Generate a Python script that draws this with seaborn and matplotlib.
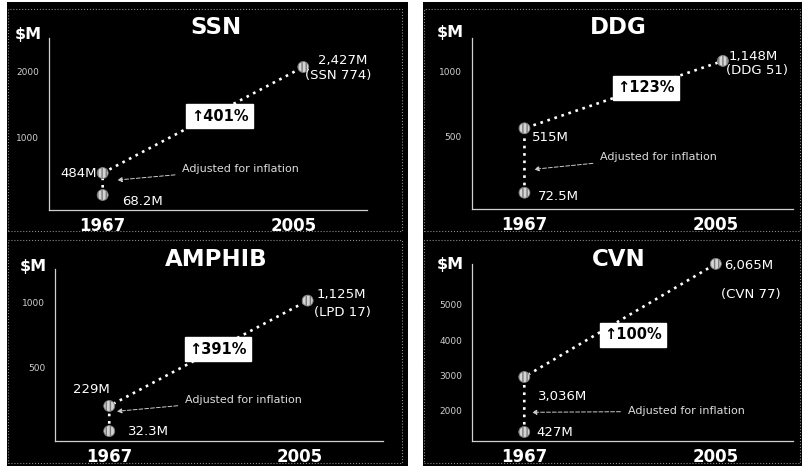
import matplotlib
matplotlib.use("Agg")
import matplotlib.pyplot as plt
import seaborn as sns
import pandas as pd
from matplotlib.patches import Rectangle

# ---------------- data ----------------
panel_titles = ["SSN", "DDG", "AMPHIB", "CVN"]

# positions of the three dots, read on each panel's own axis
ssn_year = [1967, 1967, 2007]
ssn_axis_value = [108, 446, 2077]
ssn_text = ["68.2M", "484M", "2,427M"]
ssn_ship = "(SSN 774)"
ssn_growth = "\u2191401%"
ssn_yticks = [500, 1000, 1500, 2000, 2500]
ssn_yticklabels = ["", "1000", "", "2000", ""]

ddg_year = [1967, 1967, 2006.5]
ddg_axis_value = [74, 566, 1081]
ddg_text = ["72.5M", "515M", "1,148M"]
ddg_ship = "(DDG 51)"
ddg_growth = "\u2191123%"
ddg_yticks = [250, 500, 750, 1000, 1250]
ddg_yticklabels = ["", "500", "", "1000", ""]

amphib_year = [1967, 1967, 2006.5]
amphib_axis_value = [15, 208, 1018]
amphib_text = ["32.3M", "229M", "1,125M"]
amphib_ship = "(LPD 17)"
amphib_growth = "\u2191391%"
amphib_yticks = [250, 500, 750, 1000, 1250]
amphib_yticklabels = ["", "500", "", "1000", ""]

cvn_year = [1967, 1967, 2005.1]
cvn_axis_value = [1397, 2955, 6160]
cvn_text = ["427M", "3,036M", "6,065M"]
cvn_ship = "(CVN 77)"
cvn_growth = "\u2191100%"
cvn_yticks = [2000, 3000, 4000, 5000, 6000]
cvn_yticklabels = ["2000", "3000", "4000", "5000", ""]

xtick_years = [1967, 2005]
xtick_labels = ["1967", "2005"]
unit_label = "$M"
note_text = "Adjusted for inflation"

# ---------------- layout (pixels) ----------------
W, H = 802, 466
sns.set_theme(style="white")
plt.rcParams["font.family"] = ["DejaVu Sans"]

fig = plt.figure(figsize=(W / 100, H / 100), dpi=100, facecolor="white")


def fx(x):
    return x / W


def fy(y):
    return 1 - y / H


# black column backgrounds
for (x0, x1) in [(7, 408), (423, 802)]:
    fig.patches.append(Rectangle((fx(x0), 0), fx(x1) - fx(x0), fy(2), transform=fig.transFigure,
                                 facecolor="black", edgecolor="none", zorder=-10))
# faint dotted panel borders
for (x0, y0, x1, y1) in [(8, 9, 402, 231), (424, 9, 800, 231), (8, 240, 402, 463), (424, 240, 800, 463)]:
    fig.patches.append(Rectangle((fx(x0), fy(y1)), fx(x1) - fx(x0), fy(y0) - fy(y1), transform=fig.transFigure,
                                 facecolor="none", edgecolor="#8a8a8a", linestyle=":", linewidth=0.8, zorder=-5))

panels = [
    dict(title=panel_titles[0], years=ssn_year, vals=ssn_axis_value, texts=ssn_text, ship=ssn_ship,
         growth=ssn_growth, yt=ssn_yticks, ytl=ssn_yticklabels,
         rect=(49, 38, 367, 210), xlim=(1956.3, 2019.7), ylim=(-123, 2523),
         box=(1990.3, 1323), note=(1982.9, 508), tip=(1969.9, 338),
         title_xy=(216.5, 27.5), unit_xy=(42, 35),
         offs=[("left", 19, 6.7), ("right", -6, 0), ("left", 15, -6)], ship_off=(2, 8.5)),
    dict(title=panel_titles[1], years=ddg_year, vals=ddg_axis_value, texts=ddg_text, ship=ddg_ship,
         growth=ddg_growth, yt=ddg_yticks, ytl=ddg_yticklabels,
         rect=(471.7, 38, 792.7, 209), xlim=(1956.5, 2020.4), ylim=(-50.5, 1256),
         box=(1991.2, 875), note=(1982.1, 349), tip=(1968.9, 253),
         title_xy=(618.5, 28), unit_xy=(464, 32),
         offs=[("left", 13, 4), ("left", 7, 8.7), ("left", 6, -4.8)], ship_off=(3, 10)),
    dict(title=panel_titles[2], years=amphib_year, vals=amphib_axis_value, texts=amphib_text, ship=amphib_ship,
         growth=amphib_growth, yt=amphib_yticks, ytl=amphib_yticklabels,
         rect=(55, 269, 383, 440.7), xlim=(1956.2, 2021.5), ylim=(-59, 1261),
         box=(1988.7, 644), note=(1982.1, 256), tip=(1968.5, 167),
         title_xy=(216.5, 259), unit_xy=(47, 266),
         offs=[("left", 18.7, 0), ("center", -18, -16.3), ("left", 9, -6)], ship_off=(6, 12.3)),
    dict(title=panel_titles[3], years=cvn_year, vals=cvn_axis_value, texts=cvn_text, ship=cvn_ship,
         growth=cvn_growth, yt=cvn_yticks, ytl=cvn_yticklabels,
         rect=(472, 264, 792.7, 440.7), xlim=(1956.6, 2020.4), ylim=(1150, 6156),
         box=(1988.6, 4153), note=(1987.6, 1983), tip=(1968.5, 1955),
         title_xy=(618.5, 259), unit_xy=(464, 265),
         offs=[("left", 12, 1), ("left", 14, 20), ("left", 8, 1.6)], ship_off=(5, 31)),
]

axis_grey = "#d0d0d0"

for p in panels:
    l, t, r, b = p["rect"]
    ax = fig.add_axes([fx(l), fy(b), fx(r) - fx(l), fy(t) - fy(b)])
    ax.set_facecolor("none")
    df = pd.DataFrame({"year": p["years"], "cost": p["vals"]})

    sns.lineplot(data=df, x="year", y="cost", sort=False, estimator=None, color="white",
                 linewidth=1.9, ax=ax)
    ln = ax.lines[-1]
    ln.set_linestyle((0, (1, 1.8)))
    ln.set_dash_capstyle("butt")
    ln.set_clip_on(False)

    sns.scatterplot(data=df, x="year", y="cost", s=62, color="#d4d4d4", edgecolor="#7a7a7a",
                    linewidth=0.6, zorder=5, ax=ax)
    ax.collections[-1].set_hatch("||||")
    ax.collections[-1].set_clip_on(False)

    ax.set_xlim(*p["xlim"])
    ax.set_ylim(*p["ylim"])
    ax.set_xlabel("")
    ax.set_ylabel("")
    ax.grid(False)
    for s in ["top", "right"]:
        ax.spines[s].set_visible(False)
    for s in ["left", "bottom"]:
        ax.spines[s].set_color(axis_grey)
        ax.spines[s].set_linewidth(0.9)

    ax.set_xticks(xtick_years, xtick_labels)
    ax.set_yticks(p["yt"], p["ytl"])
    ax.tick_params(axis="both", direction="inout", length=6, width=0.8, color=axis_grey)
    ax.tick_params(axis="y", labelsize=6.5, labelcolor=axis_grey, pad=4)
    ax.tick_params(axis="x", labelsize=12, labelcolor="white", pad=2)
    for tl in ax.get_xticklabels():
        tl.set_fontweight("bold")

    # value labels next to the dots
    for (x, y, txt, (ha, dx, dy)) in zip(p["years"], p["vals"], p["texts"], p["offs"]):
        ax.annotate(txt, (x, y), xytext=(dx, -dy), textcoords="offset pixels", ha=ha, va="center",
                    color="white", fontsize=9.5, zorder=7, annotation_clip=False)
    sdx, sdy = p["ship_off"]
    ax.annotate(p["ship"], (p["years"][2], p["vals"][2]), xytext=(sdx, -sdy), textcoords="offset pixels",
                ha="left", va="center", color="white", fontsize=9.5, zorder=7, annotation_clip=False)

    # growth box
    ax.text(p["box"][0], p["box"][1], p["growth"], ha="center", va="center", fontsize=10.5,
            fontweight="bold", color="black", zorder=8,
            bbox=dict(boxstyle="square,pad=0.3", fc="white", ec="white"))

    # inflation note with arrow
    ax.annotate(note_text, xy=p["tip"], xytext=p["note"], textcoords="data", ha="left", va="center",
                fontsize=8, color="#dddddd", zorder=7,
                arrowprops=dict(arrowstyle="-|>", color="#cccccc", lw=0.7, linestyle=(0, (4, 2)),
                                mutation_scale=7, shrinkA=3, shrinkB=0))

    # title and unit label
    fig.text(fx(p["title_xy"][0]), fy(p["title_xy"][1]), p["title"], ha="center", va="center",
             fontsize=16.5, fontweight="bold", color="white")
    fig.text(fx(p["unit_xy"][0]), fy(p["unit_xy"][1]), unit_label, ha="right", va="center",
             fontsize=11.5, fontweight="bold", color="white")

fig.savefig("out.png", dpi=100, facecolor=fig.get_facecolor())
